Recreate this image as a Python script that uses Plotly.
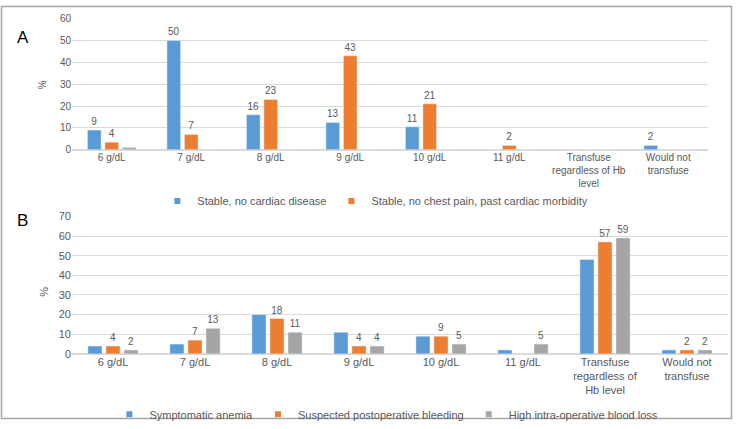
import plotly.graph_objects as go

# ---- Data ----
cats_a = ["6 g/dL", "7 g/dL", "8 g/dL", "9 g/dL", "10 g/dL", "11 g/dL",
          "Transfuse<br>regardless of Hb<br>level", "Would not<br>transfuse"]
cats_b = ["6 g/dL", "7 g/dL", "8 g/dL", "9 g/dL", "10 g/dL", "11 g/dL",
          "Transfuse<br>regardless of<br>Hb level", "Would not<br>transfuse"]

a_stable = [9, 50, 16, 12.5, 10.5, 0, 0, 2]
a_stable_lbl = ["9", "50", "16", "13", "11", "", "", "2"]
a_cardiac = [3.5, 7, 23, 43, 21, 2, 0, 0]
a_cardiac_lbl = ["4", "7", "23", "43", "21", "2", "", ""]
a_other = [1, 0, 0, 0, 0, 0, 0, 0]

b_anemia = [4, 5, 20, 11, 9, 2, 48, 2]
b_bleeding = [4, 7, 18, 4, 9, 0, 57, 2]
b_bleeding_lbl = ["4", "7", "18", "4", "9", "", "57", "2"]
b_loss = [2, 13, 11, 4, 5, 5, 59, 2]
b_loss_lbl = ["2", "13", "11", "4", "5", "5", "59", "2"]

names_a = ["Stable, no cardiac disease", "Stable, no chest pain, past cardiac morbidity"]
names_b = ["Symptomatic anemia", "Suspected postoperative bleeding", "High intra-operative blood loss"]

BLUE, ORANGE, GRAY = "#5B9BD5", "#ED7D31", "#A5A5A5"
TXT = "#595959"
FONT = "Liberation Sans, Arial, sans-serif"

fig = go.Figure()

def bar(x, y, color, name, text, xa, ya):
    return go.Bar(x=x, y=y, name=name, marker_color=color, text=text,
                  textposition="outside", textfont=dict(size=10, color=TXT, family=FONT),
                  cliponaxis=False, xaxis=xa, yaxis=ya, showlegend=False, hoverinfo="skip")

def legend_item(name, color, xa, ya, legend, x0):
    return go.Scatter(x=[x0], y=[None], mode="markers", name=name,
                      marker=dict(symbol="square", size=6, color=color),
                      xaxis=xa, yaxis=ya, legend=legend, showlegend=True, hoverinfo="skip")

fig.add_trace(bar(cats_a, a_stable, BLUE, names_a[0], a_stable_lbl, "x", "y"))
fig.add_trace(bar(cats_a, a_cardiac, ORANGE, names_a[1], a_cardiac_lbl, "x", "y"))
fig.add_trace(bar(cats_a, a_other, GRAY, "Other", [""] * 8, "x", "y"))

fig.add_trace(bar(cats_b, b_anemia, BLUE, names_b[0], [""] * 8, "x2", "y2"))
fig.add_trace(bar(cats_b, b_bleeding, ORANGE, names_b[1], b_bleeding_lbl, "x2", "y2"))
fig.add_trace(bar(cats_b, b_loss, GRAY, names_b[2], b_loss_lbl, "x2", "y2"))

for n, c in zip(names_a, [BLUE, ORANGE]):
    fig.add_trace(legend_item(n, c, "x", "y", "legend", cats_a[0]))
for n, c in zip(names_b, [BLUE, ORANGE, GRAY]):
    fig.add_trace(legend_item(n, c, "x2", "y2", "legend2", cats_b[0]))

W, H = 736, 429
def py(p):
    return 1 - p / H

yax = dict(showgrid=True, gridcolor="#D9D9D9", gridwidth=1, zeroline=True,
           zerolinecolor="#D9D9D9", showline=False, ticks="",
           tickfont=dict(size=10, color=TXT, family=FONT), dtick=10)
xax = dict(showgrid=False, showline=False, ticks="", zeroline=False)

fig.update_layout(
    width=W, height=H, margin=dict(l=0, r=0, t=0, b=0),
    paper_bgcolor="white", plot_bgcolor="white",
    barmode="group", bargap=0.34, bargroupgap=0.22,
    font=dict(family=FONT, color=TXT),
    xaxis=dict(xax, domain=[72 / W, 708 / W], anchor="y",
               tickfont=dict(size=10, color=TXT, family=FONT)),
    yaxis=dict(yax, domain=[py(149), py(13)], range=[0, 60], anchor="x"),
    xaxis2=dict(xax, domain=[72 / W, 728 / W], anchor="y2",
                tickfont=dict(size=11, color=TXT, family=FONT)),
    yaxis2=dict(yax, domain=[py(360.5), py(218)], range=[0, 70], anchor="x2",
                tickfont=dict(size=11, color=TXT, family=FONT)),
    legend=dict(orientation="h", x=0.51, xanchor="center", y=py(202), yanchor="middle",
                font=dict(size=11, color=TXT, family=FONT), bgcolor="rgba(0,0,0,0)",
                itemwidth=30),
    legend2=dict(orientation="h", x=0.525, xanchor="center", y=py(408), yanchor="top",
                 font=dict(size=11, color=TXT, family=FONT), bgcolor="rgba(0,0,0,0)",
                 itemwidth=30),
    showlegend=True,
)

def ann(text, x, y, size, color, angle=0):
    fig.add_annotation(text=text, x=x / W, y=py(y), xref="paper", yref="paper",
                       xanchor="center", yanchor="middle", showarrow=False,
                       textangle=angle, font=dict(size=size, color=color, family=FONT))

ann("A", 23, 33, 17, "black")
ann("B", 22, 222, 17, "black")
ann("%", 42, 82, 10, TXT, -90)
ann("%", 44, 296, 11, TXT, -90)

fig.add_shape(type="rect", xref="paper", yref="paper",
              x0=1.5 / W, x1=731.5 / W, y0=py(427.5), y1=py(0.5),
              line=dict(color="#A6A6A6", width=1.5), fillcolor="rgba(0,0,0,0)")

fig.write_html("out.html", config={"displayModeBar": False},
               post_script="document.body.style.margin='0px';document.body.style.overflow='hidden';")
